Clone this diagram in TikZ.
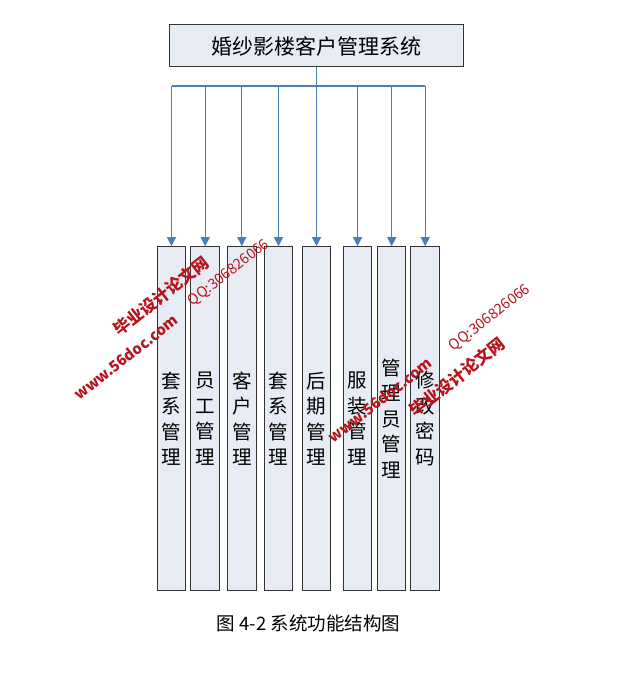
\documentclass[tikz,border=0pt]{standalone}
\usepackage{fontspec}
\setmainfont{Noto Sans CJK SC}
\usetikzlibrary{arrows.meta}
\definecolor{boxfill}{HTML}{E7EBF4}
\definecolor{arrowblue}{HTML}{4A7EBB}
\definecolor{wmred}{HTML}{B8141C}
\begin{document}
\begin{tikzpicture}[x=1pt,y=-1pt,
 topbox/.style={draw=black!80,fill=boxfill,line width=1pt,minimum width=294pt,minimum height=42pt,inner sep=0pt,font=\fontsize{21}{25}\selectfont},
 modbox/.style={draw=black!80,fill=boxfill,line width=1pt,minimum width=28.5pt,minimum height=344pt,inner sep=0pt,align=center,font=\fontsize{19.5}{25.5}\selectfont},
 link/.style={draw=arrowblue,line width=1.2pt},
 arr/.style={link,-{Triangle[length=9pt,width=9pt]}},
 wm/.style={text=wmred,font=\bfseries\fontsize{16.5}{18}\selectfont,rotate=38,inner sep=0pt},
 wmweb/.style={wm,font=\bfseries\fontsize{15}{18}\selectfont},
 wmqq/.style={wm,font=\fontsize{14.5}{18}\selectfont},
 captionstyle/.style={font=\fontsize{18.5}{22}\selectfont,inner sep=0pt}]
\fill[white] (0,0) rectangle (625,700);
\useasboundingbox (0,0) rectangle (625,700);
\node[topbox] (top) at (316.5,46) {婚纱影楼客户管理系统};
\node[modbox] (b1) at (171.5,418.7) {套\\系\\管\\理};
\node[modbox] (b2) at (205.2,418.7) {员\\工\\管\\理};
\node[modbox] (b3) at (241.8,418.7) {客\\户\\管\\理};
\node[modbox] (b4) at (278.5,418.7) {套\\系\\管\\理};
\node[modbox] (b5) at (316.5,418.7) {后\\期\\管\\理};
\node[modbox] (b6) at (357.5,418.7) {服\\装\\管\\理};
\node[modbox] (b7) at (391.7,418.7) {管\\理\\员\\管\\理};
\node[modbox] (b8) at (425.2,418.7) {修\\改\\密\\码};
\coordinate (bus) at (316.5,86);
\draw[link] (top.south) -- (bus);
\draw[link] (b1.north |- bus) -- (b8.north |- bus);
\foreach \i in {1,...,8} \draw[arr] (b\i.north |- bus) -- (b\i.north);
\node[captionstyle] (cap) at (308.5,623) {图 4-2 系统功能结构图};
% watermarks
\node[wm] (wm1) at (161,296) {毕业设计论文网};
\node[wmweb] (wm2) at (126,357) {www.56doc.com};
\node[wmqq] (wm3) at (229,273) {QQ:306826066};
\node[wm] (wm4) at (457,377) {毕业设计论文网};
\node[wmweb] (wm5) at (380,400) {www.56doc.com};
\node[wmqq] (wm6) at (490,318) {QQ:306826066};
\end{tikzpicture}
\end{document}
